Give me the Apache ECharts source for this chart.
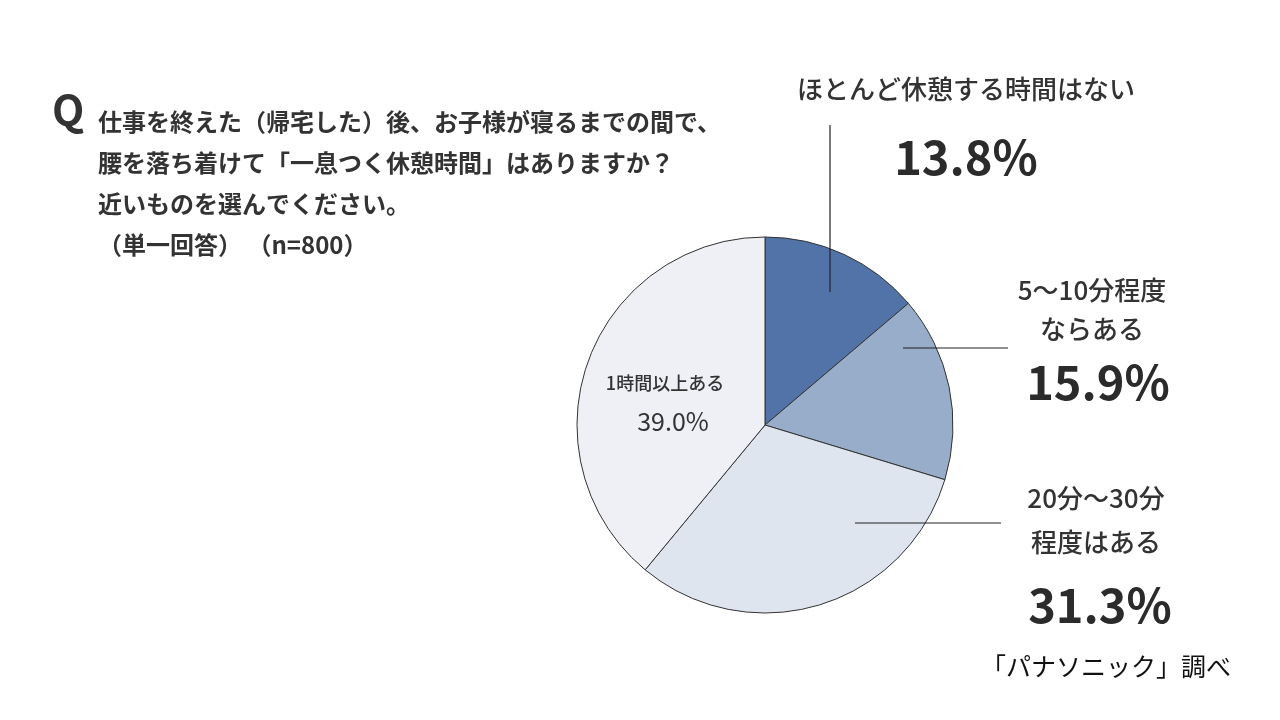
<!DOCTYPE html>
<html>
<head>
<meta charset="utf-8">
<script src="https://cdn.jsdelivr.net/npm/echarts@6/dist/echarts.min.js"></script>
<style>
  html, body { margin: 0; padding: 0; background: #fff; }
  #chart { width: 1280px; height: 720px; }
</style>
</head>
<body>
<div id="chart"></div>
<script>
  // 回答カテゴリ（時計回り、上から）
  const categories = ['ほとんど休憩する時間はない', '5～10分程度\nならある', '20分～30分\n程度はある', '1時間以上ある'];
  const shares = [13.8, 15.9, 31.3, 39.0];
  const sliceColors = ['#5273a8', '#97adca', '#dee5ef', '#eef0f6'];

  const questionLines = [
    '仕事を終えた（帰宅した）後、お子様が寝るまでの間で、',
    '腰を落ち着けて「一息つく休憩時間」はありますか？',
    '近いものを選んでください。',
    '（単一回答） （n=800）'
  ];
  const sourceText = '「パナソニック」調べ';

  const FONT = '"Noto Sans CJK JP", "Noto Sans", sans-serif';

  // ラベルの位置 (中心x, 上端y) とスタイル名
  const labelPos = [
    { x: 966, y: 61, style: 'big' },
    { x: 1092, y: 271, style: 'mid' },
    { x: 1096, y: 476, style: 'low' },
    { x: 665, y: 367, style: 'inner' }
  ];

  const rich = {
    bigN: { fontSize: 26, fontWeight: 500, color: '#333', lineHeight: 56, fontFamily: FONT },
    bigV: { fontSize: 47, fontWeight: 'bold', color: '#2b2b2b', lineHeight: 80, fontFamily: FONT },
    midN: { fontSize: 26, fontWeight: 500, color: '#333', lineHeight: 39, fontFamily: FONT },
    midV: { fontSize: 47, fontWeight: 'bold', color: '#2b2b2b', lineHeight: 67, fontFamily: FONT, padding: [0, 0, 0, 12] },
    lowN: { fontSize: 26, fontWeight: 500, color: '#333', lineHeight: 44, fontFamily: FONT },
    lowV: { fontSize: 47, fontWeight: 'bold', color: '#2b2b2b', lineHeight: 82, fontFamily: FONT, padding: [0, 0, 0, 8] },
    innerN: { fontSize: 18, fontWeight: 500, color: '#333', lineHeight: 32, fontFamily: FONT },
    innerV: { fontSize: 25, fontWeight: 'normal', color: '#333', lineHeight: 44, fontFamily: FONT, padding: [0, 0, 0, 16] }
  };

  const chart = echarts.init(document.getElementById('chart'));

  chart.setOption({
    backgroundColor: '#fff',
    animation: false,
    title: [
      {
        text: 'Q',
        left: 47,
        top: 84,
        textStyle: { fontSize: 42, fontWeight: 'bold', color: '#333', fontFamily: FONT }
      },
      {
        text: questionLines.join('\n'),
        left: 93,
        top: 96,
        textStyle: { fontSize: 24, fontWeight: 'bold', color: '#333', lineHeight: 41, fontFamily: FONT }
      },
      {
        text: sourceText,
        left: 976,
        top: 649,
        textStyle: { fontSize: 25, fontWeight: 'normal', color: '#111', fontFamily: FONT }
      }
    ],
    graphic: [
      { type: 'line', shape: { x1: 830, y1: 125, x2: 830, y2: 292 }, style: { stroke: '#222', lineWidth: 1.2 }, z: 10 },
      { type: 'line', shape: { x1: 903, y1: 348, x2: 1008, y2: 348 }, style: { stroke: '#222', lineWidth: 1.2 }, z: 10 },
      { type: 'line', shape: { x1: 855, y1: 523, x2: 1001, y2: 523 }, style: { stroke: '#222', lineWidth: 1.2 }, z: 10 }
    ],
    series: [
      {
        type: 'pie',
        center: [765, 425],
        radius: 188,
        startAngle: 90,
        clockwise: true,
        silent: true,
        itemStyle: { borderColor: '#333', borderWidth: 1 },
        labelLine: { show: false },
        label: {
          show: true,
          position: 'outside',
          formatter: function (p) {
            const s = labelPos[p.dataIndex].style;
            const lines = p.name.split('\n').map(function (t) { return '{' + s + 'N|' + t + '}'; });
            lines.push('{' + s + 'V|' + p.value.toFixed(1) + '%}');
            return lines.join('\n');
          },
          rich: rich,
          align: 'center'
        },
        labelLayout: function (params) {
          const pos = labelPos[params.dataIndex];
          return { x: pos.x, y: pos.y, align: 'center', verticalAlign: 'top' };
        },
        data: categories.map(function (c, i) {
          return { name: c, value: shares[i], itemStyle: { color: sliceColors[i] } };
        })
      }
    ]
  });
</script>
</body>
</html>
